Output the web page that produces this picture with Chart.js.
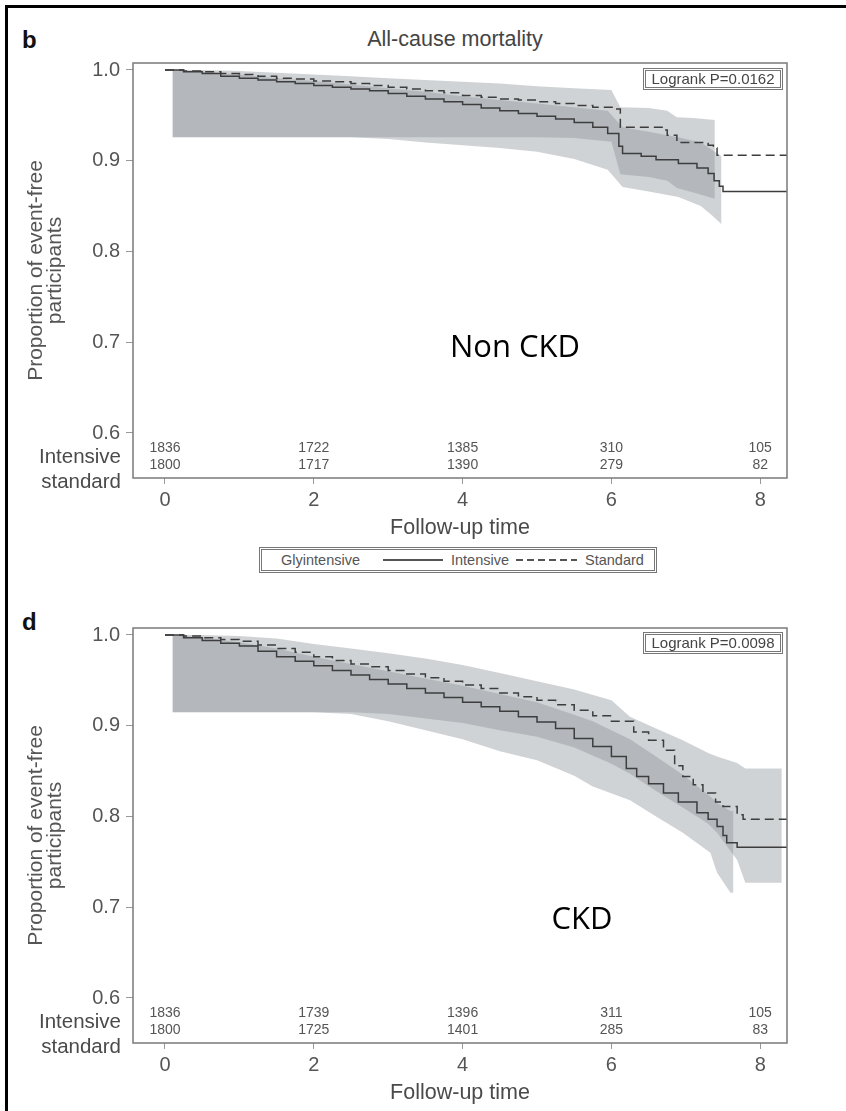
<!DOCTYPE html>
<html>
<head>
<meta charset="utf-8">
<script src="https://cdn.jsdelivr.net/npm/chart.js@4.4.1/dist/chart.umd.min.js"></script>
<style>
  body { margin: 0; background: #fff; }
  #page { position: relative; width: 846px; height: 1111px; overflow: hidden; font-family: "Liberation Sans", Arial, sans-serif; color: #444; }
  #frame { position: absolute; left: 5px; top: 5px; width: 860px; height: 1120px; border-left: 3px solid #000; border-top: 3px solid #000; }
  canvas { position: absolute; left: 0; }
  .txt { position: absolute; white-space: nowrap; line-height: 1; transform: translate(-50%, -50%); }
  .panel-tag { position: absolute; font-weight: bold; font-size: 24px; color: #111; line-height: 1; }
  .logrank { position: absolute; left: 643px; width: 140px; height: 22px; box-sizing: border-box; border: 3px double #777;
             font-size: 15px; color: #444; text-align: center; line-height: 16px; white-space: nowrap; }
  .group { position: absolute; font-family: "Open Sans", sans-serif; font-size: 31px; color: #000; line-height: 1; transform: translate(-50%, -50%); }
  #legend { position: absolute; left: 259px; top: 547px; width: 398px; height: 26px; box-sizing: border-box; border: 3px double #777; }
  .lg { position: absolute; top: 560px; font-size: 14.5px; color: #555; line-height: 1; transform: translateY(-50%); white-space: nowrap; }
  .lg-line { position: absolute; top: 559px; height: 2px; }
</style>
</head>
<body>
<div id="page">
  <div id="frame"></div>
  <div class="panel-tag" style="left:22px; top:28px;">b</div>
  <div class="txt" style="left:455px; top:40px; font-size:21.5px; color:#444;">All-cause mortality</div>
  <canvas id="nonCkd" width="846" height="545" style="top:0;"></canvas>
  <div class="logrank" style="top:68px;">Logrank P=0.0162</div>
  <div class="group" style="left:515px; top:345px;">Non CKD</div>

  <div id="legend"></div>
  <div class="lg" style="left:281px;">Glyintensive</div>
  <div class="lg-line" style="left:383px; width:60px; background:#555;"></div>
  <div class="lg" style="left:451px;">Intensive</div>
  <div class="lg-line" style="left:516px; width:61px; background:repeating-linear-gradient(90deg,#555 0 7px,transparent 7px 11px);"></div>
  <div class="lg" style="left:585px;">Standard</div>

  <div class="panel-tag" style="left:22px; top:610px;">d</div>
  <canvas id="ckd" width="846" height="545" style="top:565px;"></canvas>
  <div class="logrank" style="top:632px;">Logrank P=0.0098</div>
  <div class="group" style="left:582px; top:917px;">CKD</div>
</div>

<script>
// axis ticks and number-at-risk table
const xTicks = [0, 2, 4, 6, 8];
const yTicks = [0.6, 0.7, 0.8, 0.9, 1.0];
const riskTimes = [0, 2, 4, 6, 8];
const riskIntensiveNonCkd = [1836, 1722, 1385, 310, 105];
const riskStandardNonCkd = [1800, 1717, 1390, 279, 82];
const riskIntensiveCkd = [1836, 1739, 1396, 311, 105];
const riskStandardCkd = [1800, 1725, 1401, 285, 83];

// Non CKD: Kaplan-Meier curves (value after each step)
const nonCkdIntTime = [0, 0.25, 0.5, 0.75, 1.0, 1.25, 1.5, 1.75, 2.0, 2.25, 2.5, 2.75, 3.0, 3.25, 3.5, 3.75, 4.0, 4.25, 4.5, 4.75, 5.0, 5.25, 5.5, 5.75, 5.95, 6.1, 6.15, 6.4, 6.6, 6.9, 7.15, 7.3, 7.38, 7.45, 7.5, 8.36];
const nonCkdIntSurv = [1.0, 0.998, 0.996, 0.993, 0.991, 0.989, 0.987, 0.985, 0.983, 0.981, 0.979, 0.977, 0.974, 0.971, 0.968, 0.965, 0.962, 0.958, 0.955, 0.952, 0.949, 0.946, 0.942, 0.937, 0.930, 0.916, 0.908, 0.905, 0.901, 0.897, 0.892, 0.886, 0.878, 0.872, 0.866, 0.866];
const nonCkdStdTime = [0, 0.25, 0.5, 0.75, 1.0, 1.25, 1.5, 1.75, 2.0, 2.25, 2.5, 2.75, 3.0, 3.25, 3.5, 3.75, 4.0, 4.25, 4.5, 4.75, 5.0, 5.25, 5.5, 5.75, 6.05, 6.12, 6.7, 6.75, 6.88, 7.3, 7.37, 7.42, 8.36];
const nonCkdStdSurv = [1.0, 0.999, 0.998, 0.996, 0.995, 0.993, 0.991, 0.990, 0.988, 0.987, 0.985, 0.983, 0.981, 0.979, 0.977, 0.975, 0.972, 0.970, 0.968, 0.967, 0.965, 0.963, 0.961, 0.959, 0.957, 0.937, 0.934, 0.928, 0.920, 0.917, 0.914, 0.906, 0.906];
// Non CKD: confidence bands
const nonCkdIntBandTime = [0.1, 0.5, 1.0, 1.5, 2.0, 2.5, 3.0, 3.5, 4.0, 4.5, 5.0, 5.5, 5.95, 6.15, 6.5, 6.9, 7.2, 7.35, 7.48];
const nonCkdIntBandUpper = [1.0, 0.998, 0.995, 0.991, 0.988, 0.984, 0.980, 0.976, 0.971, 0.967, 0.963, 0.959, 0.955, 0.937, 0.932, 0.926, 0.920, 0.912, 0.905];
const nonCkdIntBandLower = [0.926, 0.926, 0.926, 0.926, 0.926, 0.926, 0.924, 0.920, 0.917, 0.914, 0.910, 0.902, 0.890, 0.871, 0.866, 0.860, 0.850, 0.840, 0.830];
const nonCkdStdBandTime = [0.1, 0.5, 1.0, 1.5, 2.0, 2.5, 3.0, 3.5, 4.0, 4.5, 5.0, 5.5, 6.0, 6.12, 6.5, 6.75, 6.88, 7.1, 7.39];
const nonCkdStdBandUpper = [1.0, 1.0, 0.999, 0.997, 0.995, 0.993, 0.991, 0.989, 0.987, 0.985, 0.982, 0.980, 0.978, 0.959, 0.958, 0.955, 0.948, 0.947, 0.945];
const nonCkdStdBandLower = [0.926, 0.926, 0.926, 0.926, 0.926, 0.926, 0.926, 0.926, 0.926, 0.926, 0.926, 0.925, 0.921, 0.885, 0.882, 0.878, 0.870, 0.865, 0.858];

// CKD: Kaplan-Meier curves
const ckdIntTime = [0, 0.25, 0.5, 0.75, 1.0, 1.25, 1.5, 1.75, 2.0, 2.25, 2.5, 2.75, 3.0, 3.25, 3.5, 3.75, 4.0, 4.25, 4.5, 4.75, 5.0, 5.25, 5.5, 5.75, 6.0, 6.2, 6.34, 6.5, 6.7, 6.9, 7.15, 7.3, 7.42, 7.5, 7.55, 7.69, 8.36];
const ckdIntSurv = [1.0, 0.997, 0.994, 0.991, 0.988, 0.982, 0.976, 0.971, 0.966, 0.961, 0.956, 0.951, 0.946, 0.941, 0.936, 0.931, 0.926, 0.921, 0.916, 0.910, 0.904, 0.897, 0.886, 0.877, 0.866, 0.853, 0.844, 0.836, 0.826, 0.816, 0.804, 0.797, 0.789, 0.779, 0.771, 0.766, 0.766];
const ckdStdTime = [0, 0.25, 0.5, 0.75, 1.0, 1.25, 1.5, 1.75, 2.0, 2.25, 2.5, 2.75, 3.0, 3.25, 3.5, 3.75, 4.0, 4.25, 4.5, 4.75, 5.0, 5.25, 5.5, 5.75, 6.0, 6.3, 6.5, 6.7, 6.85, 6.96, 7.1, 7.23, 7.4, 7.5, 7.69, 7.77, 8.36];
const ckdStdSurv = [1.0, 0.999, 0.997, 0.995, 0.993, 0.989, 0.985, 0.981, 0.976, 0.972, 0.968, 0.965, 0.961, 0.957, 0.953, 0.949, 0.945, 0.941, 0.936, 0.932, 0.928, 0.923, 0.917, 0.911, 0.905, 0.893, 0.884, 0.873, 0.856, 0.844, 0.835, 0.826, 0.816, 0.811, 0.802, 0.797, 0.797];
// CKD: confidence bands
const ckdIntBandTime = [0.1, 0.5, 1.0, 1.5, 2.0, 2.5, 3.0, 3.5, 4.0, 4.5, 5.0, 5.5, 5.75, 6.25, 6.6, 6.96, 7.33, 7.42, 7.6, 7.64];
const ckdIntBandUpper = [1.0, 0.997, 0.992, 0.985, 0.976, 0.968, 0.960, 0.952, 0.944, 0.935, 0.926, 0.912, 0.905, 0.885, 0.866, 0.846, 0.822, 0.815, 0.806, 0.806];
const ckdIntBandLower = [0.915, 0.915, 0.915, 0.915, 0.915, 0.913, 0.905, 0.895, 0.885, 0.872, 0.862, 0.845, 0.833, 0.818, 0.800, 0.782, 0.760, 0.738, 0.716, 0.716];
const ckdStdBandTime = [0.1, 0.5, 1.0, 1.5, 2.0, 2.5, 3.0, 3.5, 4.0, 4.5, 5.0, 5.5, 6.0, 6.25, 6.6, 6.96, 7.3, 7.42, 7.69, 7.8, 8.29];
const ckdStdBandUpper = [1.0, 1.0, 0.999, 0.996, 0.990, 0.985, 0.980, 0.974, 0.967, 0.958, 0.949, 0.940, 0.928, 0.910, 0.897, 0.884, 0.870, 0.866, 0.859, 0.853, 0.853];
const ckdStdBandLower = [0.915, 0.915, 0.915, 0.915, 0.915, 0.915, 0.913, 0.908, 0.903, 0.895, 0.888, 0.876, 0.858, 0.847, 0.828, 0.810, 0.792, 0.782, 0.752, 0.727, 0.727];

const FONT = '"Liberation Sans", Arial, sans-serif';
const bandColor = 'rgba(138,144,150,0.40)';
const lineColor = '#3d3d3d';

const pts = (xs, ys) => xs.map((x, i) => ({ x: x, y: ys[i] }));

// frame + number-at-risk rows
function panelExtras(intRisk, stdRisk) {
    return {
        id: 'panelExtras',
        afterDraw(chart) {
            const { ctx, chartArea: a, scales: { x } } = chart;
            ctx.save();
            ctx.strokeStyle = '#7a7a7a';
            ctx.lineWidth = 1.5;
            ctx.strokeRect(a.left, a.top, a.right - a.left, a.bottom - a.top);

            ctx.fillStyle = '#555';
            ctx.font = '14px ' + FONT;
            ctx.textAlign = 'center';
            ctx.textBaseline = 'middle';
            riskTimes.forEach((t, i) => {
                const px = x.getPixelForValue(t);
                ctx.fillText(String(intRisk[i]), px, a.bottom - 30);
                ctx.fillText(String(stdRisk[i]), px, a.bottom - 13);
            });

            ctx.font = '20.5px ' + FONT;
            ctx.textAlign = 'right';
            ctx.fillStyle = '#4a4a4a';
            ctx.fillText('Intensive', a.left - 12, a.bottom - 21);
            ctx.fillText('standard', a.left - 12, a.bottom + 4);
            ctx.restore();
        }
    };
}

function drawPanel(canvasId, d) {
    const ctx = document.getElementById(canvasId).getContext('2d');
    // bands use straight edges (their many tiny steps read as smooth curves), curves are stepped
    const band = { borderWidth: 0, pointRadius: 0, tension: 0, order: 5 };
    return new Chart(ctx, {
        type: 'line',
        data: {
            datasets: [
                { ...band, data: pts(d.ib.t, d.ib.lo), fill: false },
                { ...band, data: pts(d.ib.t, d.ib.up), fill: '-1', backgroundColor: bandColor },
                { ...band, data: pts(d.sb.t, d.sb.lo), fill: false },
                { ...band, data: pts(d.sb.t, d.sb.up), fill: '-1', backgroundColor: bandColor },
                { label: 'Intensive', data: pts(d.i.t, d.i.s), stepped: true, borderColor: lineColor, borderWidth: 1.5, pointRadius: 0, fill: false, order: 1 },
                { label: 'Standard', data: pts(d.s.t, d.s.s), stepped: true, borderColor: lineColor, borderWidth: 1.5, borderDash: [9, 5], pointRadius: 0, fill: false, order: 1 }
            ]
        },
        options: {
            responsive: false,
            animation: false,
            events: [],
            layout: { padding: { top: 63, right: 59, bottom: 0, left: 0 } },
            plugins: { legend: { display: false }, tooltip: { enabled: false } },
            scales: {
                x: {
                    type: 'linear', min: -0.43, max: 8.36,
                    afterBuildTicks: s => { s.ticks = xTicks.map(v => ({ value: v })); },
                    afterFit: s => { s.height = 67; },
                    ticks: { font: { size: 20, family: FONT }, color: '#555', padding: 4, callback: v => String(v) },
                    grid: { drawOnChartArea: false, drawTicks: true, tickLength: 6, color: '#999' },
                    border: { display: false },
                    title: { display: true, text: 'Follow-up time', color: '#4a4a4a', font: { size: 21.5, family: FONT }, padding: { top: 0, bottom: 4 } }
                },
                y: {
                    type: 'linear', min: 0.5504, max: 1.0077,
                    afterBuildTicks: s => { s.ticks = yTicks.map(v => ({ value: v })); },
                    afterFit: s => { s.width = 133; },
                    ticks: { font: { size: 20, family: FONT }, color: '#555', padding: 6, callback: v => v.toFixed(1) },
                    grid: { drawOnChartArea: false, drawTicks: true, tickLength: 7, color: '#999' },
                    border: { display: false },
                    title: { display: true, text: ['Proportion of event-free', 'participants'], color: '#555', font: { size: 21, family: FONT, lineHeight: 0.9 }, padding: { top: 27, bottom: 0 } }
                }
            }
        },
        plugins: [panelExtras(d.ri, d.rs)]
    });
}

drawPanel('nonCkd', {
    i: { t: nonCkdIntTime, s: nonCkdIntSurv },
    s: { t: nonCkdStdTime, s: nonCkdStdSurv },
    ib: { t: nonCkdIntBandTime, up: nonCkdIntBandUpper, lo: nonCkdIntBandLower },
    sb: { t: nonCkdStdBandTime, up: nonCkdStdBandUpper, lo: nonCkdStdBandLower },
    ri: riskIntensiveNonCkd, rs: riskStandardNonCkd
});

drawPanel('ckd', {
    i: { t: ckdIntTime, s: ckdIntSurv },
    s: { t: ckdStdTime, s: ckdStdSurv },
    ib: { t: ckdIntBandTime, up: ckdIntBandUpper, lo: ckdIntBandLower },
    sb: { t: ckdStdBandTime, up: ckdStdBandUpper, lo: ckdStdBandLower },
    ri: riskIntensiveCkd, rs: riskStandardCkd
});
</script>
</body>
</html>
